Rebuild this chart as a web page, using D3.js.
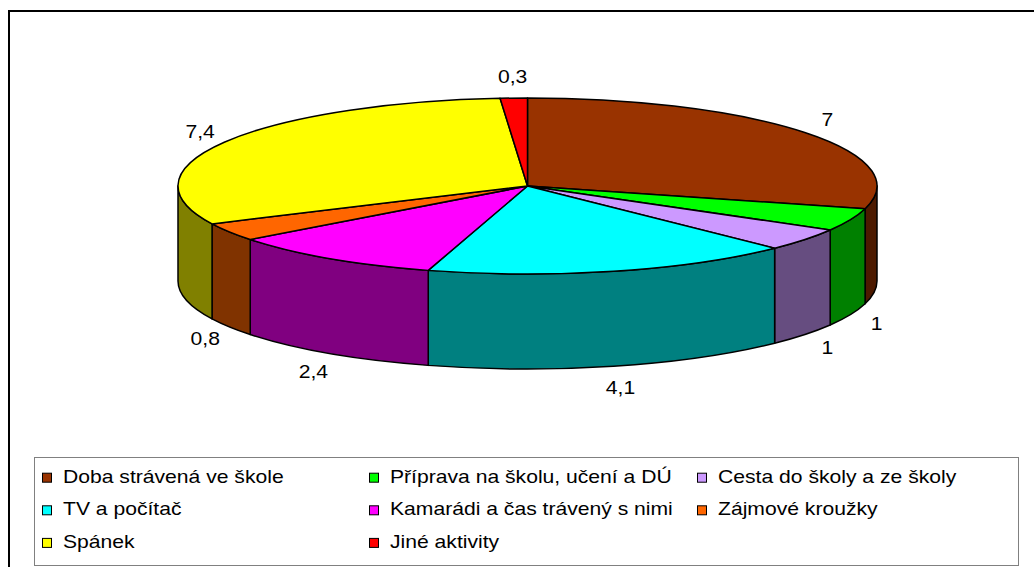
<!DOCTYPE html>
<html>
<head>
<meta charset="utf-8">
<script src="https://cdn.jsdelivr.net/npm/d3@7"></script>
<style>
    html, body { margin: 0; padding: 0; background: #fff; overflow: hidden; }
    svg { display: block; font-family: "Liberation Sans", Arial, sans-serif; }
</style>
</head>
<body>
<div id="chart"></div>
<script>
// Jak dítě tráví den (hodiny)
const categories = [
    'Doba strávená ve škole',
    'Příprava na školu, učení a DÚ',
    'Cesta do školy a ze školy',
    'TV a počítač',
    'Kamarádi a čas trávený s nimi',
    'Zájmové kroužky',
    'Spánek',
    'Jiné aktivity'
];
const values = [7, 1, 1, 4.1, 2.4, 0.8, 7.4, 0.3];
const colors = ['#993300', '#00ff00', '#cc99ff', '#00ffff', '#ff00ff', '#ff6600', '#ffff00', '#ff0000'];

class Pie3DChart {
    constructor() {
        this.width = 1034;
        this.height = 567;
        this.cx = 527.5;
        this.cy = 186;
        this.rx = 349.5;
        this.ry = 88;
        this.depth = 95;
        this.textStretch = 1.13;
        this.fmt = d3.formatLocale({ decimal: ',', thousands: ' ', grouping: [3], currency: ['', ''] }).format('~g');

        this.svg = d3.select('#chart').append('svg')
            .attr('width', this.width)
            .attr('height', this.height);

        this.drawFrame();
        this.drawPie();
        this.drawLegend();
    }

    drawFrame() {
        // vnější rámeček (pokračuje za okraj obrázku)
        this.svg.append('rect')
            .attr('x', 9).attr('y', 11)
            .attr('width', 1100).attr('height', 700)
            .attr('fill', 'none')
            .attr('stroke', '#000')
            .attr('stroke-width', 2);
    }

    point(a, dy = 0) {
        return [this.cx + this.rx * Math.sin(a), this.cy - this.ry * Math.cos(a) + dy];
    }

    drawPie() {
        const arcs = d3.pie().sort(null).value(d => d)(values);
        const half = c => {
            const rgb = d3.rgb(c);
            return d3.rgb(rgb.r / 2, rgb.g / 2, rgb.b / 2).formatHex();
        };

        // boční stěny – jen přední polovina (90° až 270°)
        const walls = this.svg.append('g');
        arcs.forEach((d, i) => {
            const s = Math.max(d.startAngle, Math.PI / 2);
            const e = Math.min(d.endAngle, Math.PI * 3 / 2);
            if (e <= s) return;
            const p0 = this.point(s), p1 = this.point(e);
            const b0 = this.point(s, this.depth), b1 = this.point(e, this.depth);
            const path = `M${p0}A${this.rx},${this.ry} 0 0 1 ${p1}L${b1}` +
                `A${this.rx},${this.ry} 0 0 0 ${b0}Z`;
            walls.append('path')
                .attr('d', path)
                .attr('fill', half(colors[i]))
                .attr('stroke', '#000')
                .attr('stroke-width', 1.5)
                .attr('stroke-linejoin', 'round');
        });

        // horní plocha – kruhové výseče zploštěné do elipsy
        const arc = d3.arc().innerRadius(0).outerRadius(this.rx);
        this.svg.append('g')
            .attr('transform', `translate(${this.cx},${this.cy}) scale(1,${this.ry / this.rx})`)
            .selectAll('path')
            .data(arcs)
            .enter().append('path')
            .attr('d', arc)
            .attr('fill', (d, i) => colors[i])
            .attr('stroke', '#000')
            .attr('stroke-width', 1.5)
            .attr('stroke-linejoin', 'round')
            .attr('vector-effect', 'non-scaling-stroke');

        // popisky hodnot
        const lrx = this.rx + 28.5, lry = this.ry + 22;
        this.svg.append('g')
            .selectAll('text')
            .data(arcs)
            .enter().append('text')
            .attr('transform', d => {
                const a = (d.startAngle + d.endAngle) / 2;
                const x = this.cx + lrx * Math.sin(a);
                const y = this.cy - lry * Math.cos(a) + (Math.cos(a) < 0 ? this.depth : 0);
                return `translate(${x},${y + 6.5}) scale(${this.textStretch},1)`;
            })
            .attr('text-anchor', 'middle')
            .attr('font-size', 18.7)
            .attr('fill', '#000')
            .text(d => this.fmt(d.data));
    }

    drawLegend() {
        const box = { x: 34.5, y: 457.5, w: 984, h: 108 };
        this.svg.append('rect')
            .attr('x', box.x).attr('y', box.y)
            .attr('width', box.w).attr('height', box.h)
            .attr('fill', '#fff')
            .attr('stroke', '#808080')
            .attr('stroke-width', 1);

        const colX = [42, 369, 697];
        const rowY = d3.scaleLinear().domain([0, 1]).range([482.7, 515.3]);

        const item = this.svg.append('g')
            .selectAll('g')
            .data(categories)
            .enter().append('g')
            .attr('transform', (d, i) => `translate(${colX[i % 3]},${rowY(Math.floor(i / 3))})`);

        item.append('rect')
            .attr('x', 0.5).attr('y', -9.5)
            .attr('width', 9).attr('height', 9)
            .attr('fill', (d, i) => colors[i])
            .attr('stroke', '#000')
            .attr('stroke-width', 1);

        item.append('text')
            .attr('transform', `translate(21,0) scale(${this.textStretch},1)`)
            .attr('font-size', 18.7)
            .attr('fill', '#000')
            .text(d => d);
    }
}

const chart = new Pie3DChart();
</script>
</body>
</html>
